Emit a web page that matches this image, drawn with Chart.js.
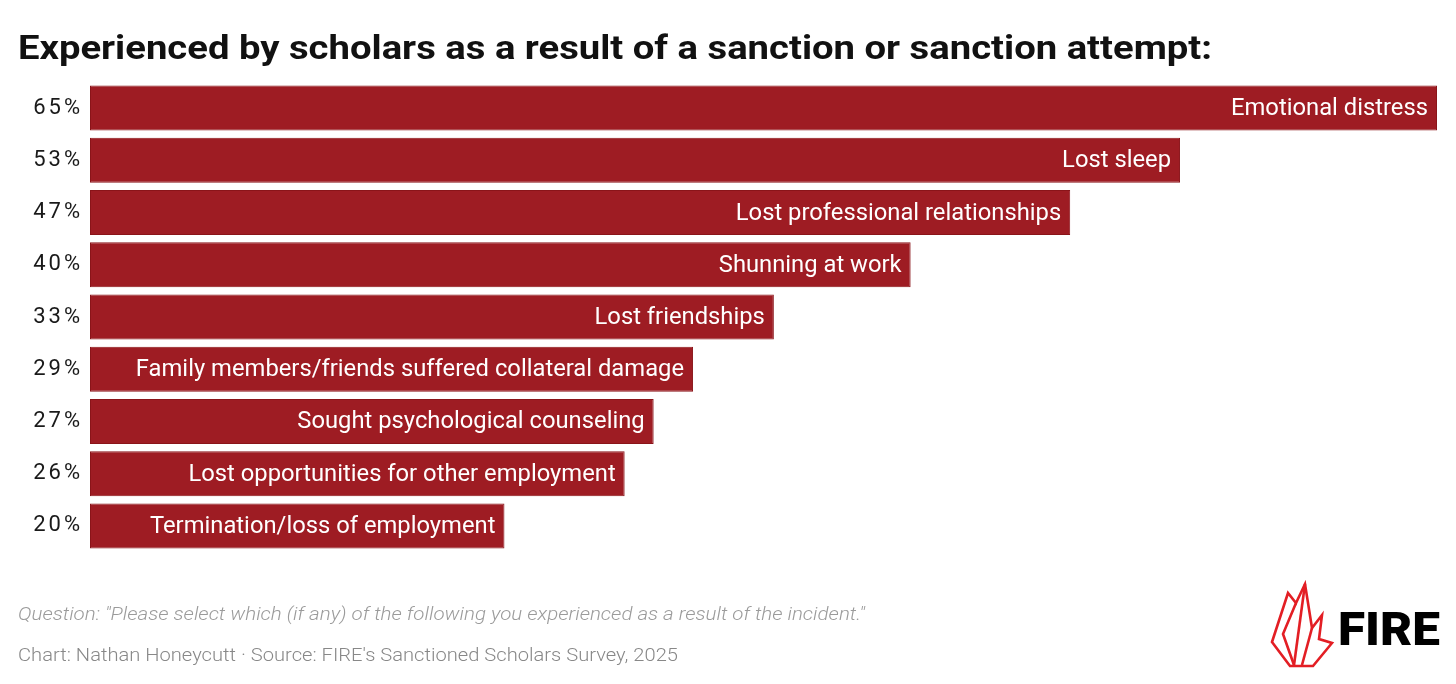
<!DOCTYPE html>
<html>
<head>
<meta charset="utf-8">
<script src="https://cdn.jsdelivr.net/npm/chart.js@4/dist/chart.umd.min.js"></script>
<style>
  html, body { margin: 0; padding: 0; background: #fff; }
  #wrap { position: relative; width: 1456px; height: 684px; overflow: hidden; }
  #chart { position: absolute; left: 0; top: 0; }
  #overlay { position: absolute; left: 0; top: 0; pointer-events: none; }
</style>
</head>
<body>
<div id="wrap">
  <canvas id="chart" width="1456" height="684"></canvas>
  <svg id="overlay" width="1456" height="684" xmlns="http://www.w3.org/2000/svg">
    <text x="18" y="59" font-family="Roboto, 'Noto Sans', sans-serif" font-weight="700" font-size="33"
          fill="#111" textLength="1194" lengthAdjust="spacingAndGlyphs">Experienced by scholars as a result of a sanction or sanction attempt:</text>
    <text x="18" y="620" font-family="Roboto, 'Noto Sans', sans-serif" font-weight="300" font-style="italic" font-size="19"
          fill="#9b9b9b" textLength="847" lengthAdjust="spacingAndGlyphs">Question: "Please select which (if any) of the following you experienced as a result of the incident."</text>
    <text x="18" y="661" font-family="Roboto, 'Noto Sans', sans-serif" font-weight="300" font-size="19"
          fill="#888" textLength="660" lengthAdjust="spacingAndGlyphs">Chart: Nathan Honeycutt · Source: FIRE's Sanctioned Scholars Survey, 2025</text>
    <!-- FIRE logo -->
    <g transform="translate(1271,584)" fill="none" stroke="#e31e24" stroke-width="2.6" stroke-linejoin="miter">
      <polygon points="1,58 17,9 25,19 34,0 41,44 51,31 48,55 61,59 42,82 19,82"/>
      <polyline points="25,19 12,50 23,81"/>
      <polyline points="34,0 23,81"/>
      <polyline points="41,44 31,81"/>
    </g>
    <text x="1338" y="645" font-family="Roboto, 'Noto Sans', sans-serif" font-weight="900" font-size="46"
          fill="#000" textLength="102" lengthAdjust="spacingAndGlyphs">FIRE</text>
  </svg>
</div>
<script>
// ---------- Data ----------
const categories = [
  "Emotional distress",
  "Lost sleep",
  "Lost professional relationships",
  "Shunning at work",
  "Lost friendships",
  "Family members/friends suffered collateral damage",
  "Sought psychological counseling",
  "Lost opportunities for other employment",
  "Termination/loss of employment",
];
const pctLabels = ["65%", "53%", "47%", "40%", "33%", "29%", "27%", "26%", "20%"];
const values = [65, 52.6, 47.3, 39.6, 33.0, 29.1, 27.2, 25.8, 20.0];

// bar labels: a bit larger, squeezed so "Emotional distress" keeps its original width
const fontFamily = "Roboto, 'Noto Sans', sans-serif";
const labelFont = `400 24px ${fontFamily}`;
const probe = document.createElement("canvas").getContext("2d");
probe.font = labelFont;
const squeeze = 197 / probe.measureText(categories[0]).width;

// ---------- Tick spacing + labels inside bars ----------
const barLabels = {
  id: "barLabels",
  beforeDraw(chart) {
    chart.ctx.letterSpacing = "3px";
  },
  beforeDatasetsDraw(chart) {
    chart.ctx.letterSpacing = "0px";
  },
  afterDatasetsDraw(chart) {
    const ctx = chart.ctx;
    const meta = chart.getDatasetMeta(0);
    ctx.save();
    ctx.font = labelFont;
    ctx.fillStyle = "#ffffff";
    ctx.textAlign = "right";
    ctx.textBaseline = "middle";
    meta.data.forEach((bar, i) => {
      ctx.save();
      ctx.translate(bar.x - 9, bar.y + 1);
      ctx.scale(squeeze, 1);
      ctx.fillText(categories[i], 0, 0);
      ctx.restore();
    });
    ctx.restore();
  },
};

new Chart(document.getElementById("chart"), {
  type: "bar",
  data: {
    labels: categories,
    datasets: [{
      data: values,
      backgroundColor: "#9e1c23",
      borderColor: "#8a1419",
      borderWidth: 1,
      borderSkipped: false,
      barPercentage: 0.862,
      categoryPercentage: 1,
    }],
  },
  options: {
    indexAxis: "y",
    responsive: false,
    maintainAspectRatio: false,
    animation: false,
    layout: { padding: { top: 82, bottom: 132, left: 0, right: 19 } },
    plugins: { legend: { display: false }, tooltip: { enabled: false } },
    scales: {
      x: { display: false, min: 0, max: 65 },
      y: {
        afterFit(scale) { scale.width = 90; },
        grid: { display: false, drawTicks: false },
        border: { display: false },
        ticks: {
          padding: 7,
          color: "#1a1a1a",
          font: { family: fontFamily, size: 22, weight: "400" },
          callback: (v, i) => pctLabels[i],
        },
      },
    },
  },
  plugins: [barLabels],
});
</script>
</body>
</html>
